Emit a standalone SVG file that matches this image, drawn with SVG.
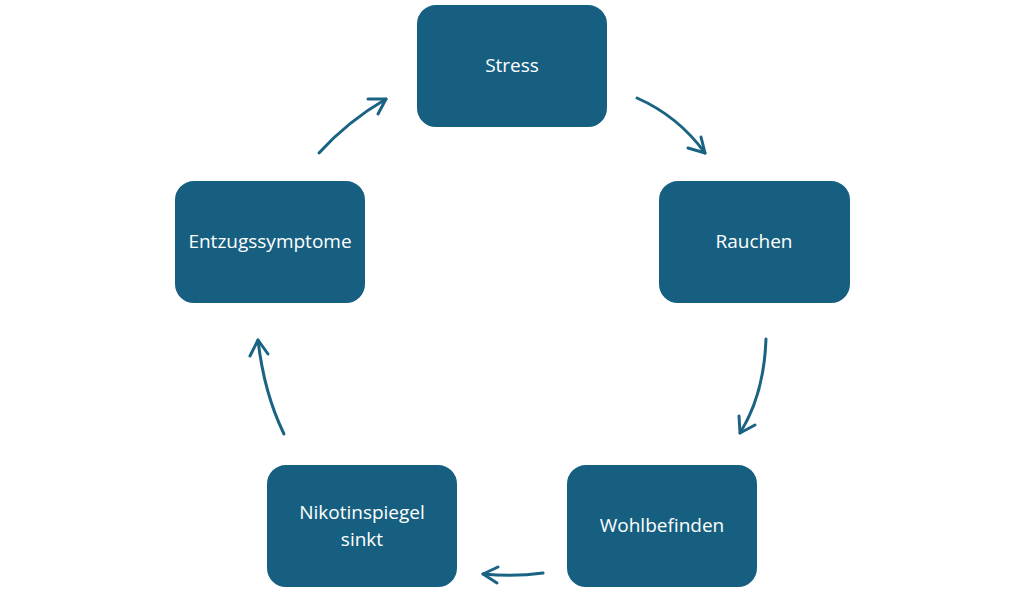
<svg xmlns="http://www.w3.org/2000/svg" width="1024" height="599" viewBox="0 0 1024 599">
<style>
.box{fill:#175f80;stroke:#ffffff;stroke-width:2}
.lbl{fill:#ffffff;font-family:"Open Sans","Noto Sans",sans-serif;font-size:19px;text-anchor:middle;dominant-baseline:central}
.arr{fill:none;stroke:#1b6383;stroke-width:3;stroke-linecap:round;stroke-linejoin:round}
</style>
<rect width="1024" height="599" fill="#ffffff"/>
<g id="stress"><rect class="box" x="416" y="4" width="192" height="124" rx="20"/><text class="lbl" x="512" y="65">Stress</text></g>
<g id="rauchen"><rect class="box" x="658" y="180" width="193" height="124" rx="20"/><text class="lbl" x="754" y="241">Rauchen</text></g>
<g id="wohlbefinden"><rect class="box" x="566" y="464" width="192" height="124" rx="20"/><text class="lbl" x="662" y="525">Wohlbefinden</text></g>
<g id="nikotinspiegel"><rect class="box" x="266" y="464" width="192" height="124" rx="20"/><text class="lbl" x="362" y="512">Nikotinspiegel</text><text class="lbl" x="362" y="538.5">sinkt</text></g>
<g id="entzugssymptome"><rect class="box" x="174" y="180" width="192" height="124" rx="20"/><text class="lbl" x="270" y="241">Entzugssymptome</text></g>
<g id="connectors">
<path class="arr" d="M637,98 Q678,116 705,153"/><path class="arr" d="M701,137 L705,153 L688,148"/>
<path class="arr" d="M766,339 Q764,395 740,433"/><path class="arr" d="M739,416 L740,433 L755,425"/>
<path class="arr" d="M543,573 Q515,577 483,574"/><path class="arr" d="M498,567 L483,574 L497,583"/>
<path class="arr" d="M284,434 Q264,393 258,340"/><path class="arr" d="M250,356 L258,340 L268,354"/>
<path class="arr" d="M319,153 Q348,121 386,99"/><path class="arr" d="M368,99 L386,99 L378,114"/>
</g>
</svg>
